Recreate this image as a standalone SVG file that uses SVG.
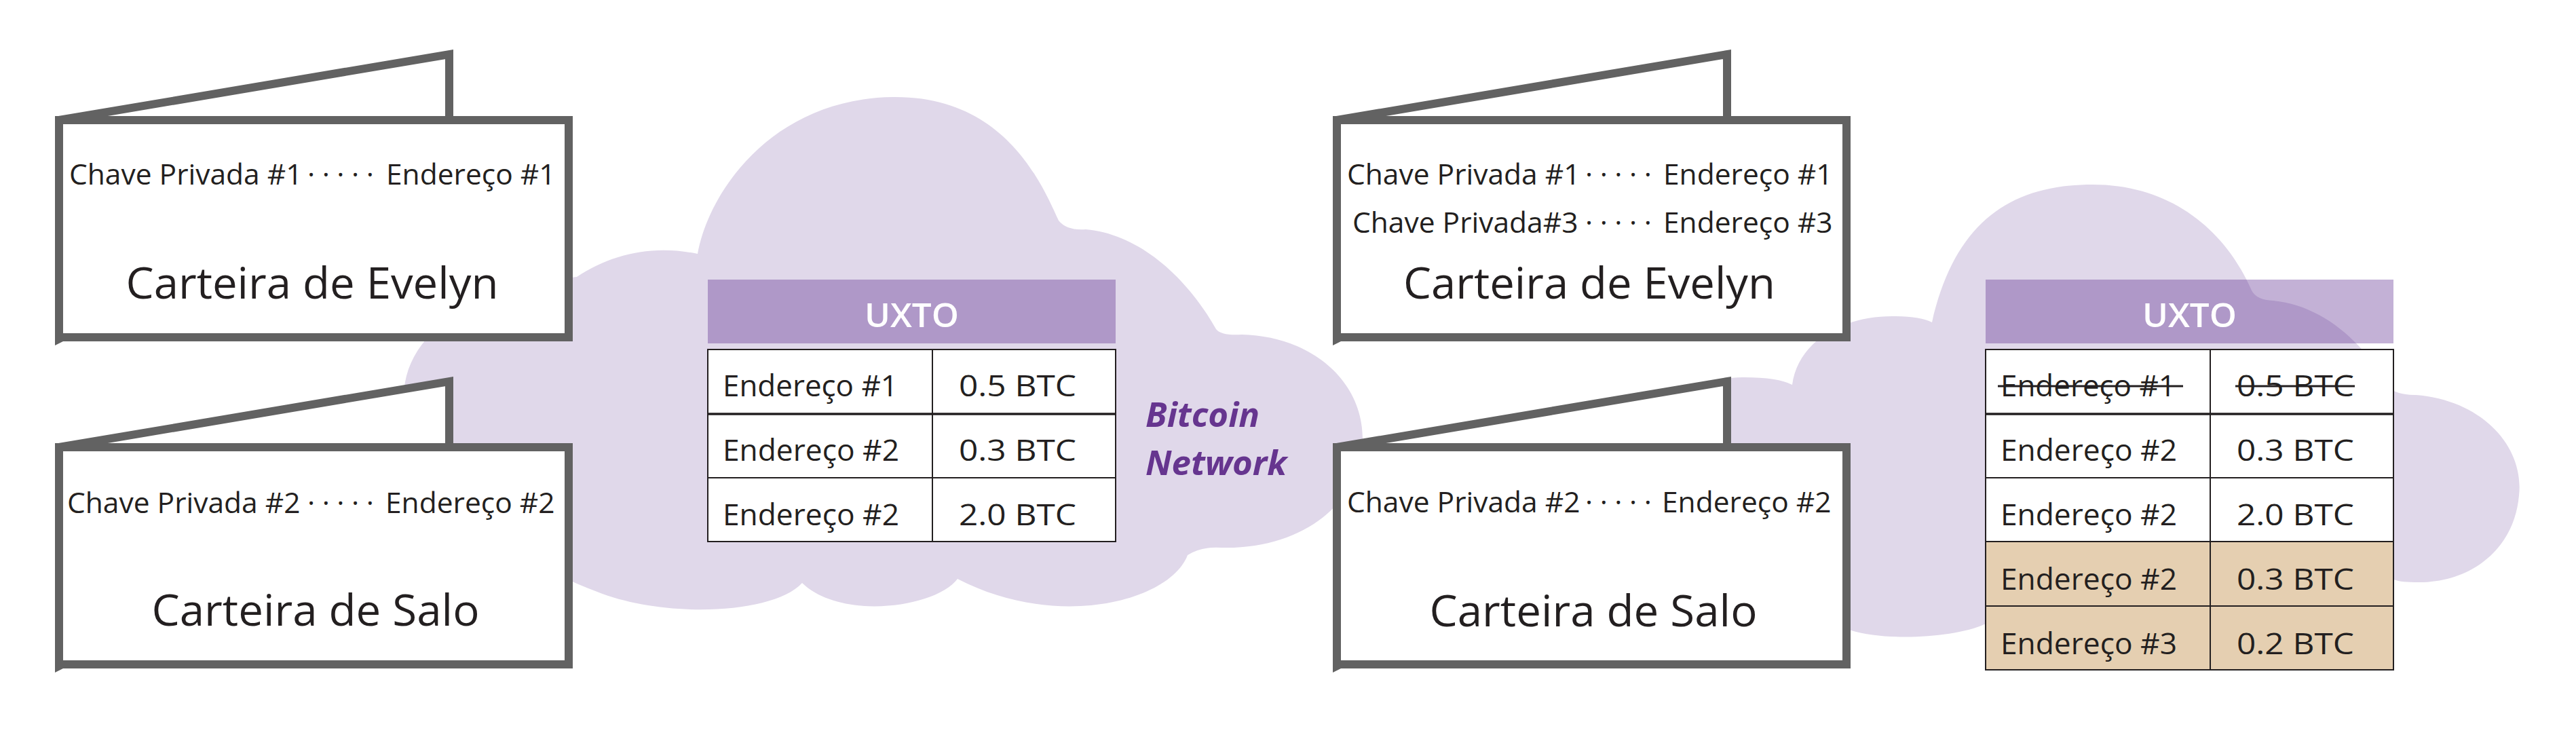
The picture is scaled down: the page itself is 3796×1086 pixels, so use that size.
<svg xmlns="http://www.w3.org/2000/svg" width="3796" height="1086" viewBox="0 0 3796 1086">
<style>
.bg{fill:#ffffff}
.cloud{fill:#E0D8EA}
.wb{fill:#ffffff;stroke:#626262;stroke-width:12;stroke-linejoin:miter}
.tail{fill:#626262}
.t{font-family:'Open Sans','Liberation Sans',sans-serif;fill:#231F20}
.key{font-size:42.5px}
.dots{letter-spacing:10.5px}
.title{font-size:64px}
.cell{font-size:44px}
.hdr{fill:#58268D;fill-opacity:0.36}
.hdrt{font-family:'Open Sans','Liberation Sans',sans-serif;font-size:48px;font-weight:600;fill:#ffffff}
.grid{fill:#ffffff;stroke:#231F20;stroke-width:2}
.tan{fill:#E5CFB1}
.ln{stroke:#231F20;stroke-width:2;fill:none}
.lnb{stroke:#231F20;stroke-width:3.5;fill:none}
.strike{stroke:#231F20;stroke-width:3;fill:none}
.net{font-family:'Open Sans','Liberation Sans',sans-serif;font-size:51px;font-weight:700;font-style:italic;fill:#66358F}
</style>
<rect class="bg" x="0" y="0" width="3796" height="1086"/>

<g id="cloud-before">
<path class="cloud" d="M 1028 374 C 1045 280, 1140 145, 1316 143 C 1480 141, 1535 270, 1560 325 Q 1572 340, 1600 338 C 1680 345, 1750 410, 1792 485 Q 1800 495, 1830 493 C 1930 495, 2010 560, 2008 650 C 2006 740, 1920 810, 1800 807 Q 1770 805, 1750 818 C 1725 885, 1560 930, 1411 853 C 1380 895, 1240 915, 1182 859 C 1140 905, 980 912, 880 872 C 760 825, 600 740, 595 590 C 592 480, 720 420, 850 408 C 900 375, 960 360, 1028 374 Z"/>
</g>

<g id="cloud-after">
<path class="cloud" d="M 2847 475 C 2880 330, 2960 272, 3084 272 C 3200 272, 3280 340, 3318 428 Q 3325 442, 3350 443 C 3420 450, 3480 500, 3520 570 Q 3530 582, 3560 582 C 3660 590, 3720 660, 3712 730 C 3705 810, 3640 860, 3560 858 Q 3535 858, 3525 853 C 3400 900, 3100 940, 2924 920 C 2880 940, 2780 945, 2728 929 C 2600 920, 2470 800, 2470 690 C 2470 600, 2500 555, 2570 556 Q 2620 556, 2641 567 C 2650 500, 2720 465, 2791 466 Q 2830 466, 2847 475 Z"/>
</g>

<g id="utxo-before">
<rect class="hdr" x="1043" y="412" width="601" height="94"/>
<text class="hdrt" x="1343.5" y="482" text-anchor="middle" textLength="139" lengthAdjust="spacingAndGlyphs">UXTO</text>
<rect class="grid" x="1043" y="515" width="601" height="283"/>
<line class="lnb" x1="1043" y1="610" x2="1644" y2="610"/>
<line class="ln" x1="1043" y1="704" x2="1644" y2="704"/>
<line class="ln" x1="1374" y1="515" x2="1374" y2="798"/>
<text class="t cell" x="1065" y="584" textLength="258" lengthAdjust="spacingAndGlyphs">Endereço #1</text>
<text class="t cell" x="1413" y="584" textLength="173" lengthAdjust="spacingAndGlyphs">0.5 BTC</text>
<text class="t cell" x="1065" y="679" textLength="260" lengthAdjust="spacingAndGlyphs">Endereço #2</text>
<text class="t cell" x="1413" y="679" textLength="173" lengthAdjust="spacingAndGlyphs">0.3 BTC</text>
<text class="t cell" x="1065" y="774" textLength="260" lengthAdjust="spacingAndGlyphs">Endereço #2</text>
<text class="t cell" x="1413" y="774" textLength="173" lengthAdjust="spacingAndGlyphs">2.0 BTC</text>
</g>

<g id="bitcoin-network-label">
<text class="net"><tspan x="1688" y="629">Bitcoin</tspan><tspan x="1688" y="700">Network</tspan></text>
</g>

<g id="utxo-after">
<rect class="hdr" x="2926" y="412" width="601" height="94"/>
<text class="hdrt" x="3226.5" y="482" text-anchor="middle" textLength="139" lengthAdjust="spacingAndGlyphs">UXTO</text>
<rect class="grid" x="2926" y="515" width="601" height="472"/>
<rect class="tan" x="2927" y="798" width="599" height="188"/>
<line class="lnb" x1="2926" y1="610" x2="3527" y2="610"/>
<line class="ln" x1="2926" y1="704" x2="3527" y2="704"/>
<line class="ln" x1="2926" y1="798" x2="3527" y2="798"/>
<line class="ln" x1="2926" y1="893" x2="3527" y2="893"/>
<line class="ln" x1="3257" y1="515" x2="3257" y2="987"/>
<rect x="2926" y="515" width="601" height="472" fill="none" stroke="#231F20" stroke-width="2"/>
<text class="t cell" x="2948" y="584" textLength="258" lengthAdjust="spacingAndGlyphs">Endereço #1</text>
<text class="t cell" x="3296" y="584" textLength="173" lengthAdjust="spacingAndGlyphs">0.5 BTC</text>
<line class="strike" x1="2944" y1="569" x2="3217" y2="569"/>
<line class="strike" x1="3294" y1="569" x2="3470" y2="569"/>
<text class="t cell" x="2948" y="679" textLength="260" lengthAdjust="spacingAndGlyphs">Endereço #2</text>
<text class="t cell" x="3296" y="679" textLength="173" lengthAdjust="spacingAndGlyphs">0.3 BTC</text>
<text class="t cell" x="2948" y="774" textLength="260" lengthAdjust="spacingAndGlyphs">Endereço #2</text>
<text class="t cell" x="3296" y="774" textLength="173" lengthAdjust="spacingAndGlyphs">2.0 BTC</text>
<text class="t cell" x="2948" y="869" textLength="260" lengthAdjust="spacingAndGlyphs">Endereço #2</text>
<text class="t cell" x="3296" y="869" textLength="173" lengthAdjust="spacingAndGlyphs">0.3 BTC</text>
<text class="t cell" x="2948" y="964" textLength="260" lengthAdjust="spacingAndGlyphs">Endereço #3</text>
<text class="t cell" x="3296" y="964" textLength="173" lengthAdjust="spacingAndGlyphs">0.2 BTC</text>
</g>

<g id="wallet-evelyn-before">
<polygon class="wb" points="87,177 662,80 662,177"/>
<rect class="wb" x="87" y="177" width="751" height="320"/>
<polygon class="tail" points="81,497 93,497 93,503 81,509"/>
<text class="t key" y="272"><tspan x="102">Chave Privada #1</tspan><tspan class="dots" x="453">·····</tspan><tspan x="569">Endereço #1</tspan></text>
<text class="t title" x="460" y="440" text-anchor="middle" textLength="549" lengthAdjust="spacingAndGlyphs">Carteira de Evelyn</text>
</g>

<g id="wallet-salo-before" transform="translate(0,482)">
<polygon class="wb" points="87,177 662,80 662,177"/>
<rect class="wb" x="87" y="177" width="751" height="320"/>
<polygon class="tail" points="81,497 93,497 93,503 81,509"/>
<text class="t key" y="274"><tspan x="99">Chave Privada #2</tspan><tspan class="dots" x="453">·····</tspan><tspan x="568">Endereço #2</tspan></text>
<text class="t title" x="465" y="440" text-anchor="middle" textLength="483" lengthAdjust="spacingAndGlyphs">Carteira de Salo</text>
</g>

<g id="wallet-evelyn-after" transform="translate(1883,0)">
<polygon class="wb" points="87,177 662,80 662,177"/>
<rect class="wb" x="87" y="177" width="751" height="320"/>
<polygon class="tail" points="81,497 93,497 93,503 81,509"/>
<text class="t key" y="272"><tspan x="102">Chave Privada #1</tspan><tspan class="dots" x="453">·····</tspan><tspan x="568">Endereço #1</tspan></text>
<text class="t key" y="343"><tspan x="110">Chave Privada#3</tspan><tspan class="dots" x="453">·····</tspan><tspan x="568">Endereço #3</tspan></text>
<text class="t title" x="459" y="440" text-anchor="middle" textLength="548" lengthAdjust="spacingAndGlyphs">Carteira de Evelyn</text>
</g>

<g id="wallet-salo-after" transform="translate(1883,482)">
<polygon class="wb" points="87,177 662,80 662,177"/>
<rect class="wb" x="87" y="177" width="751" height="320"/>
<polygon class="tail" points="81,497 93,497 93,503 81,509"/>
<text class="t key" y="273"><tspan x="102">Chave Privada #2</tspan><tspan class="dots" x="453">·····</tspan><tspan x="566">Endereço #2</tspan></text>
<text class="t title" x="465" y="441" text-anchor="middle" textLength="483" lengthAdjust="spacingAndGlyphs">Carteira de Salo</text>
</g>
</svg>
